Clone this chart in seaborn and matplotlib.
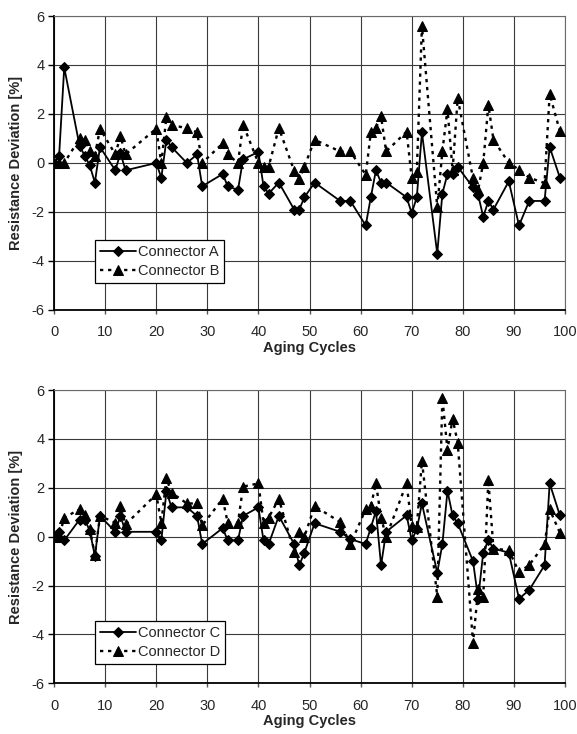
import numpy as np
import pandas as pd
import seaborn as sns
import matplotlib
matplotlib.use('Agg')
import matplotlib.pyplot as plt

# aging cycles where readings were taken (same for every connector)
cycles = [0, 1, 2, 5, 6, 7, 8, 9, 12, 13, 14, 20, 21, 22, 23, 26, 28, 29,
          33, 34, 36, 37, 40, 41, 42, 44, 47, 48, 49, 51, 56, 58, 61, 62, 63,
          64, 65, 69, 70, 71, 72, 75, 76, 77, 78, 79, 82, 83, 84, 85, 86, 89,
          91, 93, 96, 97, 99]

conn_a = [0, 0.3, 3.9, 0.7, 0.3, -0.1, -0.8, 0.65, -0.3, 0.4, -0.3, 0, -0.6,
          0.95, 0.65, 0, 0.35, -0.95, -0.45, -0.95, -1.1, 0.15, 0.45, -0.95,
          -1.25, -0.8, -1.9, -1.9, -1.4, -0.8, -1.55, -1.55, -2.55, -1.4, -0.3,
          -0.8, -0.8, -1.4, -2.05, -1.4, 1.25, -3.7, -1.25, -0.45, -0.45, -0.15,
          -1.0, -1.3, -2.2, -1.55, -1.9, -0.75, -2.55, -1.55, -1.55, 0.65, -0.6]
conn_b = [0, 0, 0, 1.0, 0.95, 0.5, 0.3, 1.4, 0.35, 1.1, 0.35, 1.4, 0, 1.88,
          1.55, 1.42, 1.25, 0, 0.8, 0.35, 0, 1.57, 0, -0.15, -0.15, 1.43,
          -0.32, -0.65, -0.15, 0.95, 0.47, 0.47, -0.48, 1.25, 1.43, 1.9, 0.47,
          1.28, -0.6, -0.35, 5.6, -1.8, 0.47, 2.2, -0.3, 2.65, -0.63, -1.1, 0.0,
          2.37, 0.95, 0, -0.27, -0.6, -0.82, 2.82, 1.29]
conn_c = [0, 0.2, -0.15, 0.7, 0.7, 0.25, -0.8, 0.85, 0.2, 0.85, 0.2, 0.2,
          -0.15, 1.85, 1.2, 1.2, 0.85, -0.3, 0.35, -0.15, -0.15, 0.85, 1.2,
          -0.15, -0.3, 0.85, -0.3, -1.17, -0.65, 0.55, 0.2, -0.1, -0.3, 0.37,
          1.05, -1.17, 0.2, 0.87, -0.14, 0.3, 1.36, -1.47, -0.31, 1.87, 0.87,
          0.55, -1.0, -2.54, -0.65, -0.14, -0.49, -0.65, -2.54, -2.18, -1.17,
          2.18, 0.87]
conn_d = [0, 0, 0.78, 1.12, 0.87, 0.3, -0.75, 0.85, 0.57, 1.25, 0.5, 1.73,
          0.57, 2.39, 1.8, 1.36, 1.36, 0.46, 1.55, 0.57, 0.57, 2.05, 2.18, 0.57,
          0.78, 1.55, -0.63, 0.19, 0, 1.25, 0.6, -0.31, 1.12, 1.25, 2.18, 0.78,
          0, 2.18, 0.44, 0.4, 3.1, -2.45, 5.69, 3.55, 4.83, 3.85, -4.34, -2.16,
          -2.46, 2.32, -0.49, -0.55, -1.45, -1.16, -0.31, 1.12, 0.16]

x_ticks = list(range(0, 101, 10))
y_ticks = list(range(-6, 7, 2))

sns.set_style("white")
plt.rcParams['font.family'] = ['Liberation Sans', 'DejaVu Sans']
plt.rcParams['axes.unicode_minus'] = False

fig = plt.figure(figsize=(5.77, 7.34), dpi=100)
ax1 = fig.add_axes([0.0936, 0.5777, 0.8856, 0.4005])
ax2 = fig.add_axes([0.0936, 0.0690, 0.8856, 0.3996])


def draw_panel(ax, solid, dotted, lab1, lab2, leg_y):
    df = pd.DataFrame({"cycle": cycles, "s1": solid, "s2": dotted})
    sns.lineplot(data=df, x="cycle", y="s1", ax=ax, color="black",
                 marker="D", markersize=5.2, linewidth=1.3,
                 markeredgecolor="black", label=lab1, zorder=4)
    sns.lineplot(data=df, x="cycle", y="s2", ax=ax, color="black",
                 marker="^", markersize=7.5, linewidth=1.7,
                 linestyle=(0, (1.4, 2.0)), markeredgecolor="black",
                 label=lab2, zorder=3)
    ax.set_xlim(0, 100)
    ax.set_ylim(-6, 6)
    ax.set_xticks(x_ticks)
    ax.set_yticks(y_ticks)
    ax.grid(True, color="#3a3a3a", linewidth=0.8)
    ax.set_axisbelow(True)
    for side in ["top", "right"]:
        ax.spines[side].set_color("#6a6a6a")
        ax.spines[side].set_linewidth(0.8)
    for side in ["left", "bottom"]:
        ax.spines[side].set_color("black")
        ax.spines[side].set_linewidth(1.3)
    ax.tick_params(axis="y", direction="out", length=4.5, width=1,
                   color="black", pad=2.5, labelsize=10.5, left=True)
    ax.tick_params(axis="x", direction="out", length=3, width=1,
                   color="#555555", pad=8, labelsize=10.5, bottom=True)
    ax.set_xlabel("Aging Cycles", fontsize=10.5, fontweight="bold", labelpad=1)
    ax.set_ylabel("Resistance Deviation [%]", fontsize=10.5,
                  fontweight="bold", labelpad=6)
    leg = ax.legend(loc="lower left", bbox_to_anchor=(0.08, leg_y),
                    fontsize=10.5, frameon=True, fancybox=False,
                    handlelength=2.5, handletextpad=0.1, borderpad=0.35,
                    labelspacing=0.35, borderaxespad=0)
    leg.get_frame().set_edgecolor("black")
    leg.get_frame().set_linewidth(0.9)
    leg.get_frame().set_alpha(1)


draw_panel(ax1, conn_a, conn_b, "Connector A", "Connector B", 0.092)
draw_panel(ax2, conn_c, conn_d, "Connector C", "Connector D", 0.066)

fig.savefig("out.png", dpi=100)
plt.close(fig)
